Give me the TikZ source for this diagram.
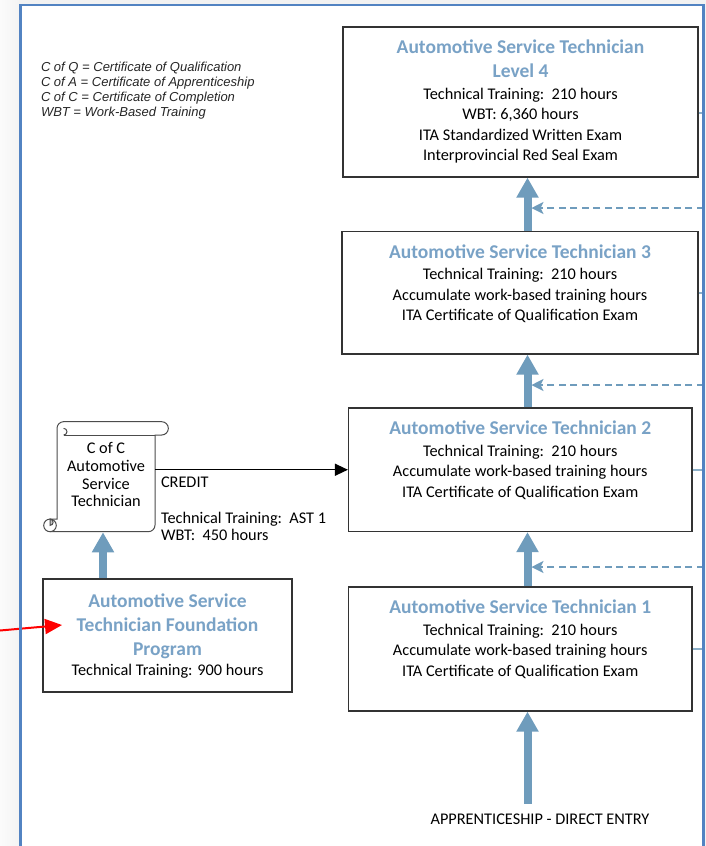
\documentclass[tikz,border=0pt]{standalone}
\usepackage{fontspec}
\setmainfont{Carlito}
\newfontfamily\legendfont{Liberation Sans}
\usepackage{tikz}
\usetikzlibrary{arrows.meta,positioning}

\definecolor{arrowblue}{RGB}{111,156,188}
\definecolor{titleblue}{RGB}{121,162,198}
\definecolor{frameblue}{RGB}{82,131,194}
\newcommand{\bodyfont}{\fontsize{16.3}{20.3}\selectfont}
\newcommand{\titlefont}{\fontsize{19.5}{24}\selectfont\bfseries}

\begin{document}
\begin{tikzpicture}[x=1pt,y=-1pt,>=Triangle,semithick]
	\tikzstyle{box}=[draw=black!80,line width=1.2pt,fill=white,inner sep=0pt]
	\tikzstyle{boxtitle}=[font=\titlefont,text=titleblue,align=center,inner sep=0pt]
	\tikzstyle{boxbody}=[font=\bodyfont,align=center,inner sep=0pt]
	\tikzstyle{tight}=[font=\fontsize{16.3}{17.7}\selectfont,inner sep=0pt]
	\tikzstyle{legend}=[font=\legendfont\fontsize{13}{15}\selectfont\itshape,text=black!85,align=left,inner sep=0pt]
	\tikzstyle{bigarrow}=[draw=arrowblue,line width=8pt,-{Triangle[width=21pt,length=20pt]}]
	\tikzstyle{dasharrow}=[draw=arrowblue,line width=1.1pt,dash pattern=on 7pt off 4.5pt,-{Stealth[width=12pt,length=12pt,inset=3pt]},shorten >=4pt]
	\tikzstyle{railtick}=[draw=arrowblue!80,line width=2pt]
	\tikzstyle{creditarrow}=[draw=black,line width=1.3pt,-{Triangle[width=12pt,length=13pt]}]
	\tikzstyle{redarrow}=[draw=red,line width=2pt,-{Triangle[width=15pt,length=17pt]}]
	\tikzstyle{scroll}=[draw=black!70,line width=1pt,fill=white]

	% page and frame
	\useasboundingbox (0,0) rectangle (706,846);
	\fill[gray!10] (0,0) rectangle (706,846);
	\shade[left color=gray!3,right color=gray!9] (0,0) rectangle (19,846);
	\fill[white] (20.5,5) rectangle (703.5,846);

	\coordinate (ax) at (527.5,0);
	\coordinate (rail) at (703.5,0);

	% levels
	\node[box,minimum width=355pt,minimum height=150pt]   (L4) at (520.5,102) {};
	\node[box,minimum width=356pt,minimum height=122.5pt] (L3) at (520,292.75) {};
	\node[box,minimum width=343.5pt,minimum height=123.5pt] (L2) at (520.25,469.75) {};
	\node[box,minimum width=343.5pt,minimum height=124pt]  (L1) at (520.25,649) {};
	\node[box,minimum width=249pt,minimum height=113pt]    (Found) at (167.5,635.5) {};

	\node[boxtitle] (L4t) [below=13.5pt of L4.north] {Automotive Service Technician\\Level 4};
	\node[boxbody]  (L4b) [below=9.5pt of L4t] {Technical Training:\ \ 210 hours\\WBT: 6,360 hours\\ITA Standardized Written Exam\\Interprovincial Red Seal Exam};
	\node[boxtitle] (L3t) [below=13.5pt of L3.north] {Automotive Service Technician 3};
	\node[boxbody]  (L3b) [below=9.5pt of L3t] {Technical Training:\ \ 210 hours\\Accumulate work-based training hours\\ITA Certificate of Qualification Exam};
	\node[boxtitle] (L2t) [below=13.5pt of L2.north] {Automotive Service Technician 2};
	\node[boxbody]  (L2b) [below=9.5pt of L2t] {Technical Training:\ \ 210 hours\\Accumulate work-based training hours\\ITA Certificate of Qualification Exam};
	\node[boxtitle] (L1t) [below=13.5pt of L1.north] {Automotive Service Technician 1};
	\node[boxbody]  (L1b) [below=9.5pt of L1t] {Technical Training:\ \ 210 hours\\Accumulate work-based training hours\\ITA Certificate of Qualification Exam};
	\node[boxtitle] (Foundt) [below=15pt of Found.north] {Automotive Service\\Technician Foundation\\Program};
	\node[boxbody]  (Foundb) [below=5pt of Foundt] {Technical Training: 900 hours};

	% certificate scroll
	\filldraw[scroll] (63.65,421.7) -- (161.7,421.7) arc (270:450:6.65) -- (155,435) -- (155,525.05) arc (0:90:6.65)
		-- (50,531.7) arc (90:270:6.3) -- (57,519.1) -- (57,428.35) arc (180:270:6.65) -- cycle;
	\draw[scroll] (63.65,435) -- (155,435);
	\draw[scroll] (63.65,428.35) arc (270:450:3.33);
	\draw[scroll] (50,531.7) arc (90:-90:6.3);
	\filldraw[scroll,fill=gray!45] (50,519.1) arc (270:450:3.15) -- cycle;
	\node[minimum width=98pt,minimum height=97pt,inner sep=0pt] (CofC) at (106,483.5) {};
	\node[tight,align=center] (CofCt) [below=7.5pt of CofC.north] {C of C\\Automotive\\Service\\Technician};
	\node[tight,align=left,anchor=north west] (credit) at (160.7,476.8) {CREDIT\\[17.7pt]Technical Training:\ \ AST 1\\WBT:\ \ 450 hours};

	\node[legend,anchor=north west] (key) at (40.7,61.3) {C of Q = Certificate of Qualification\\C of A = Certificate of Apprenticeship\\C of C = Certificate of Completion\\WBT = Work-Based Training};
	\node[boxbody,anchor=base] (entry) at (540,824) {APPRENTICESHIP - DIRECT ENTRY};
	\coordinate (entrytop) at ([yshift=9.5pt]entry.north);

	% connectors
	\foreach \y/\n in {208/a,385/b,567/c} {
		\coordinate (d\n) at (703.5,\y);
		\draw[dasharrow] (d\n) -- (d\n -| ax);
	}
	\draw[railtick] ([yshift=-11pt]L4.east) -- ([yshift=-11pt]L4.east -| rail);
	\foreach \b in {L3,L2,L1}
		\draw[railtick] (\b.east) -- (\b.east -| rail);
	\draw[bigarrow] (entrytop -| ax) -- (L1.south -| ax);
	\draw[bigarrow] (L1.north -| ax) -- (L2.south -| ax);
	\draw[bigarrow] (L2.north -| ax) -- (L3.south -| ax);
	\draw[bigarrow] (L3.north -| ax) -- (L4.south -| ax);
	\draw[bigarrow] ([xshift=-3pt]Found.north -| CofC.south) -- ([xshift=-3pt]CofC.south);
	\draw[creditarrow] (CofC.east |- L2.west) -- (L2.west);
	\coordinate (redtail) at (0,630.5);
	\coordinate (redtip) at (62,625);
	\draw[redarrow] (redtail) -- (redtip);

	\draw[frameblue,line width=2.5pt] (20.5,846) -- (20.5,5) -- (703.5,5) -- (703.5,846);
\end{tikzpicture}
\end{document}
